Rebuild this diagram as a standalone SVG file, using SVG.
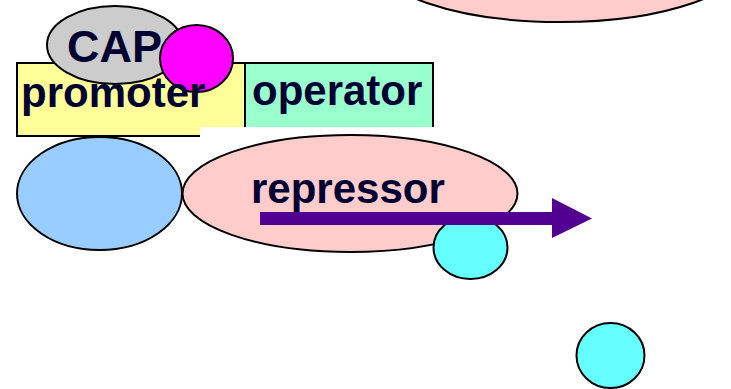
<svg xmlns="http://www.w3.org/2000/svg" width="731" height="389" viewBox="0 0 731 389">
<style>
.s{stroke:#000;stroke-width:2}
.t{font-family:"Liberation Sans",Arial,sans-serif;font-weight:bold;fill:#000033}
</style>
<rect width="731" height="389" fill="#fff"/>
<g id="top-ellipse"><ellipse class="s" cx="560" cy="-43" rx="188" ry="65" fill="#FFCCCC"/></g>
<g id="promoter"><rect class="s" x="17" y="63" width="228" height="73" fill="#FFFF99"/></g>
<g id="operator"><rect class="s" x="245" y="63" width="188" height="70" fill="#99FFCC"/></g>
<g id="CAP"><ellipse class="s" cx="115" cy="45" rx="68" ry="39" fill="#CCCCCC"/><text class="t" x="67" y="62" font-size="45">CAP</text></g>
<g id="magenta"><ellipse class="s" cx="196.5" cy="58.5" rx="36.5" ry="33.5" fill="#FF00FF"/></g>
<text class="t" x="21" y="107" font-size="42">promoter</text>
<text class="t" x="252" y="105" font-size="42">operator</text>
<rect x="200" y="127" width="236" height="11" fill="#fff"/>
<g id="blue"><ellipse class="s" cx="99.5" cy="193.5" rx="82.5" ry="56.5" fill="#99CCFF"/></g>
<g id="repressor"><ellipse class="s" cx="350" cy="193.5" rx="167.5" ry="58.5" fill="#FFCCCC"/><text class="t" x="251" y="203" font-size="42">repressor</text></g>
<g id="cyan1"><ellipse class="s" cx="470.5" cy="247.5" rx="37" ry="31.5" fill="#66FFFF"/></g>
<g id="cyan2"><ellipse class="s" cx="610.5" cy="355.5" rx="34" ry="32.5" fill="#66FFFF"/></g>
<g id="connectors"><polygon points="260,212 552,212 552,198 592,218.5 552,238 552,225 260,225" fill="#520092"/></g>
</svg>
